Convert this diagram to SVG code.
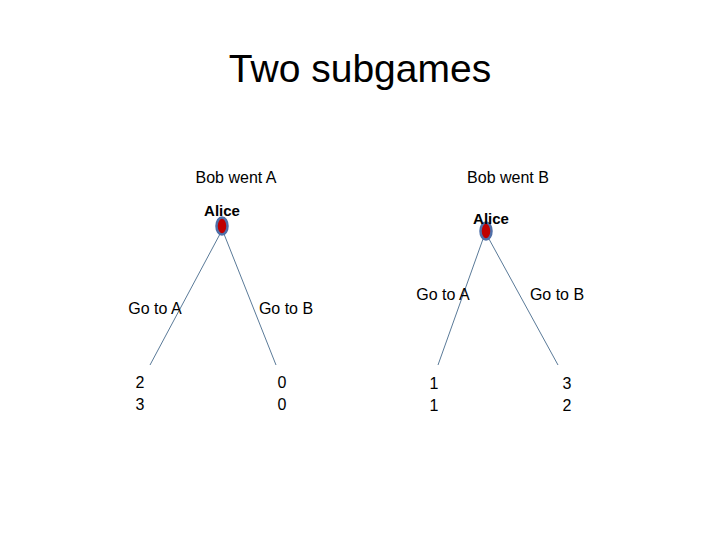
<svg xmlns="http://www.w3.org/2000/svg" width="720" height="540" viewBox="0 0 720 540">
<style>
text{font-family:"Liberation Sans",Arial,sans-serif;fill:#000}
.t{font-size:39px}
.l{font-size:16px}
.a{font-size:15px;font-weight:bold}
.e{stroke:#5a7a98;stroke-width:1;fill:none}
.n{fill:#c00000;stroke:#4f6fa8;stroke-width:2.5}
</style>
<rect width="720" height="540" fill="#fff"/>
<text class="t" x="360" y="82" text-anchor="middle">Two subgames</text>
<text class="l" x="236" y="183" text-anchor="middle">Bob went A</text>
<text class="l" x="508" y="183" text-anchor="middle">Bob went B</text>
<g id="connectors">
<line class="e" x1="220" y1="234" x2="150" y2="365"/>
<line class="e" x1="224" y1="234" x2="276" y2="365"/>
<line class="e" x1="483" y1="239" x2="438" y2="365"/>
<line class="e" x1="489" y1="239" x2="558" y2="365"/>
</g>
<g id="alice1">
<ellipse class="n" cx="222" cy="226" rx="5.5" ry="8.5"/>
<text class="a" x="222" y="216" text-anchor="middle">Alice</text>
</g>
<g id="alice2">
<ellipse class="n" cx="486" cy="231" rx="5.5" ry="8.5"/>
<text class="a" x="491" y="224" text-anchor="middle">Alice</text>
</g>
<g id="labels">
<text class="l" x="155" y="314" text-anchor="middle">Go to A</text>
<text class="l" x="286" y="314" text-anchor="middle">Go to B</text>
<text class="l" x="443" y="300" text-anchor="middle">Go to A</text>
<text class="l" x="557" y="300" text-anchor="middle">Go to B</text>
</g>
<g id="payoff1"><text class="l" x="140" y="388" text-anchor="middle">2</text><text class="l" x="140" y="410" text-anchor="middle">3</text></g>
<g id="payoff2"><text class="l" x="282" y="388" text-anchor="middle">0</text><text class="l" x="282" y="410" text-anchor="middle">0</text></g>
<g id="payoff3"><text class="l" x="434" y="389" text-anchor="middle">1</text><text class="l" x="434" y="411" text-anchor="middle">1</text></g>
<g id="payoff4"><text class="l" x="567" y="389" text-anchor="middle">3</text><text class="l" x="567" y="411" text-anchor="middle">2</text></g>
</svg>
